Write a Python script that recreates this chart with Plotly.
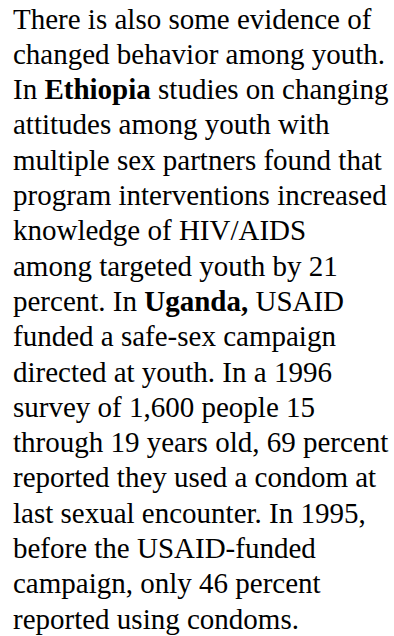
import plotly.graph_objects as go

lines = [
    "There is also some evidence of",
    "changed behavior among youth.",
    "In <b>Ethiopia</b> studies on changing",
    "attitudes among youth with",
    "multiple sex partners found that",
    "program interventions increased",
    "knowledge of HIV/AIDS",
    "among targeted youth by 21",
    "percent. In <b>Uganda,</b> USAID",
    "funded a safe-sex campaign",
    "directed at youth. In a 1996",
    "survey of 1,600 people 15",
    "through 19 years old, 69 percent",
    "reported they used a condom at",
    "last sexual encounter. In 1995,",
    "before the USAID-funded",
    "campaign, only 46 percent",
    "reported using condoms.",
]

W, H = 394, 636
first_baseline = 28.3
line_step = 35.3
font_size = 29
left_edge = 12.7

fig = go.Figure()
for i, t in enumerate(lines):
    fig.add_annotation(
        x=left_edge - 2,
        y=first_baseline + i * line_step - 0.337 * font_size,
        xref="x", yref="y", text=t, showarrow=False,
        xanchor="left", yanchor="middle", align="left",
        font=dict(family="Liberation Serif", size=font_size, color="#000000"),
    )

fig.update_xaxes(range=[0, W], visible=False, fixedrange=True)
fig.update_yaxes(range=[H, 0], visible=False, fixedrange=True)
fig.update_layout(
    width=W, height=H, margin=dict(l=0, r=0, t=0, b=0),
    paper_bgcolor="white", plot_bgcolor="white", showlegend=False,
)
fig.write_html(
    "out.html",
    config={"displayModeBar": False},
    post_script="document.body.style.margin='0px';document.body.style.overflow='hidden';",
)
